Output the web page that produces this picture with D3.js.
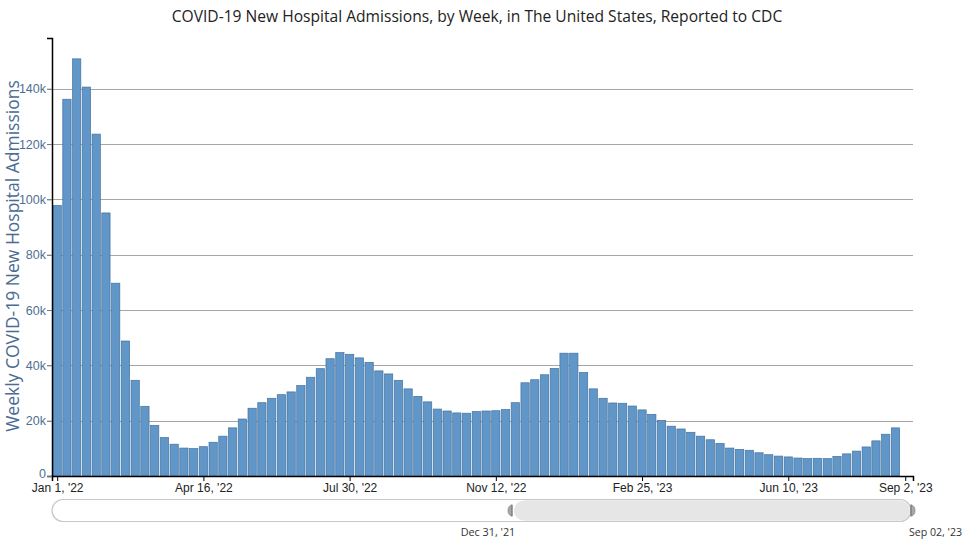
<!DOCTYPE html>
<html>
<head>
<meta charset="utf-8">
<script src="https://cdn.jsdelivr.net/npm/d3@7"></script>
<style>
  html, body { margin: 0; padding: 0; background: #fff; }
  svg { display: block; }
</style>
</head>
<body>
<svg id="chart" width="962" height="545"></svg>
<script>
// ---- Data ----
const titleText = "COVID-19 New Hospital Admissions, by Week, in The United States, Reported to CDC";
const yAxisTitle = "Weekly COVID-19 New Hospital Admissions";
const firstWeek = "2022-01-01";   // week dates, one per bar, 7 days apart
const admissions = [
  97800, 136200, 150800, 140600, 123600, 95100, 69700, 48800, 34600, 25200,
  18300, 13900, 11500, 10100, 9900, 10600, 12200, 14400, 17400, 20600,
  24500, 26500, 28100, 29400, 30400, 32700, 35700, 38800, 42400, 44600,
  44000, 42700, 41100, 38000, 36900, 34600, 31500, 28800, 26800, 24200,
  23500, 22800, 22700, 23300, 23500, 23600, 24000, 26500, 33700, 34800,
  36600, 38900, 44400, 44400, 37400, 31500, 28100, 26400, 26300, 25300,
  23900, 22300, 20100, 18000, 17000, 15800, 14400, 13100, 11800, 10100,
  9600, 9300, 8400, 7700, 7200, 6900, 6500, 6300, 6400, 6300,
  7100, 8000, 9000, 10500, 12700, 15100, 17400
];
const xTickDates = ["2022-01-01", "2022-04-16", "2022-07-30", "2022-11-12", "2023-02-25", "2023-06-10", "2023-09-02"];
const yTickValues = [0, 20000, 40000, 60000, 80000, 100000, 120000, 140000];
const sliderLabels = ["Dec 31, '21", "Sep 02, '23"];

// ---- Build ----
const parse = d3.timeParse("%Y-%m-%d");
const startDate = parse(firstWeek);
const weeks = admissions.map((v, i) => ({ date: d3.timeDay.offset(startDate, 7 * i), value: v }));

const svg = d3.select("#chart");
const plotL = 52, plotR = 913, plotT = 38, plotB = 476;

const x = d3.scaleTime()
  .domain([new Date(2021, 11, 28, 6, 30), new Date(2023, 8, 7, 14, 0)])
  .range([plotL, plotR]);
const y = d3.scaleLinear()
  .domain([0, d3.max(admissions) * 1.05])
  .range([plotB, plotT]);

// title
svg.append("text")
  .attr("x", 477).attr("y", 22)
  .attr("text-anchor", "middle")
  .attr("font-family", "'Open Sans', sans-serif")
  .attr("font-size", 15.6)
  .attr("fill", "#222")
  .text(titleText);

// gridlines
svg.append("g").selectAll("line")
  .data(yTickValues.filter(d => d > 0))
  .join("line")
  .attr("x1", plotL - 5).attr("x2", plotR)
  .attr("y1", d => Math.round(y(d)) + 0.5).attr("y2", d => Math.round(y(d)) + 0.5)
  .attr("stroke", "#a6a6a6").attr("stroke-width", 1);

// bars
const barW = (x(d3.timeDay.offset(startDate, 7)) - x(startDate)) * 0.85;
svg.append("g").selectAll("rect")
  .data(weeks)
  .join("rect")
  .attr("x", d => x(d.date) - barW / 2)
  .attr("y", d => y(d.value))
  .attr("width", barW)
  .attr("height", d => y(0) - y(d.value))
  .attr("fill", "#6196c8")
  .attr("stroke", "#44729f")
  .attr("stroke-width", 0.7);

// y axis
const yAxis = svg.append("g")
  .attr("transform", `translate(${plotL},0)`)
  .call(d3.axisLeft(y).tickValues(yTickValues)
    .tickFormat(d => d === 0 ? "0" : (d / 1000) + "k")
    .tickSize(5).tickPadding(1));
yAxis.select(".domain").attr("stroke", "#000").attr("stroke-width", 1.5);
yAxis.selectAll(".tick line").attr("stroke", "#777");
yAxis.selectAll("text")
  .attr("font-family", "'Liberation Sans', Arial, sans-serif")
  .attr("font-size", 12.5)
  .attr("fill", "#4f6f93");
yAxis.selectAll(".tick").filter(d => d === 0).select("text").attr("dy", "0.1em");

// x axis
const xAxis = svg.append("g")
  .attr("transform", `translate(0,${plotB})`)
  .call(d3.axisBottom(x).tickValues(xTickDates.map(parse))
    .tickFormat(d3.timeFormat("%b %-d, '%y"))
    .tickSize(5).tickPadding(2));
xAxis.select(".domain").attr("stroke", "#000").attr("stroke-width", 1.5);
xAxis.selectAll(".tick line").attr("stroke", "#000");
xAxis.selectAll("text")
  .attr("font-family", "'Liberation Sans', Arial, sans-serif")
  .attr("font-size", 12)
  .attr("fill", "#222");

// y axis title
svg.append("text")
  .attr("transform", "translate(12,256) rotate(-90)")
  .attr("text-anchor", "middle")
  .attr("dominant-baseline", "central")
  .attr("font-family", "'Open Sans', sans-serif")
  .attr("font-size", 17.5)
  .attr("fill", "#4a6b93")
  .text(yAxisTitle);

// range slider (navigator)
const sy = 499.5, sh = 22;
svg.append("rect")
  .attr("x", plotL).attr("y", sy).attr("width", 859).attr("height", sh)
  .attr("rx", sh / 2)
  .attr("fill", "#fff").attr("stroke", "#c8c8c8").attr("stroke-width", 1.2);
svg.append("rect")
  .attr("x", 514).attr("y", sy + 0.8).attr("width", 396).attr("height", sh - 1.6)
  .attr("rx", sh / 2)
  .attr("fill", "#e6e6e6");
[512, 911].forEach((hx, i) => {
  svg.append("path")
    .attr("d", `M${hx},${sy + 5.5} a4,5.5 0 0 ${i === 0 ? 0 : 1} 0,11 Z`)
    .attr("fill", "#a8a8a8").attr("stroke", "#888").attr("stroke-width", 0.8);
  svg.append("line")
    .attr("x1", hx).attr("x2", hx).attr("y1", sy + 5).attr("y2", sy + 17)
    .attr("stroke", "#777").attr("stroke-width", 1);
});
svg.append("text")
  .attr("x", 488).attr("y", 536)
  .attr("text-anchor", "middle")
  .attr("font-family", "'Open Sans', sans-serif")
  .attr("font-size", 10.8).attr("fill", "#333")
  .text(sliderLabels[0]);
svg.append("text")
  .attr("x", 909).attr("y", 536)
  .attr("text-anchor", "start")
  .attr("font-family", "'Open Sans', sans-serif")
  .attr("font-size", 10.6).attr("fill", "#333")
  .text(sliderLabels[1]);
</script>
</body>
</html>
